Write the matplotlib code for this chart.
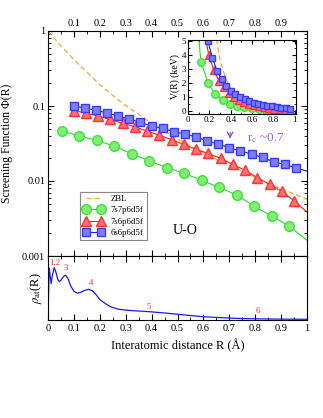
import matplotlib.pyplot as plt
from matplotlib.ticker import MultipleLocator

plt.rcParams['font.family'] = ['Liberation Serif', 'DejaVu Serif']
plt.rcParams['mathtext.fontset'] = 'stix'

# main panel: screening function
r_green = [0.054, 0.121, 0.189, 0.256, 0.324, 0.391, 0.459, 0.526, 0.594, 0.661, 0.729, 0.796, 0.864, 0.931]
phi_green = [0.0462, 0.0400, 0.0347, 0.0291, 0.0230, 0.0185, 0.0151, 0.0126, 0.0102, 0.0082, 0.0065, 0.0046, 0.0034, 0.0025]
end_green = 0.00162

r_red = [0.099, 0.146, 0.194, 0.241, 0.288, 0.336, 0.383, 0.430, 0.477, 0.525,
         0.572, 0.619, 0.667, 0.714, 0.761, 0.808, 0.856, 0.903, 0.951]
phi_red = [0.0863, 0.0811, 0.0733, 0.0662, 0.0586, 0.0528, 0.0462, 0.0409, 0.0356, 0.0307,
           0.0264, 0.0233, 0.0200, 0.0166, 0.0139, 0.0111, 0.0090, 0.0073, 0.0054]
end_red = 0.00387

r_blue = [0.099, 0.142, 0.185, 0.228, 0.271, 0.314, 0.357, 0.400, 0.443, 0.486, 0.529,
          0.571, 0.614, 0.657, 0.700, 0.743, 0.786, 0.829, 0.871, 0.914, 0.957]
phi_blue = [0.0997, 0.0946, 0.0873, 0.0811, 0.0733, 0.0668, 0.0604, 0.0539, 0.0502, 0.0455, 0.0422,
            0.0388, 0.0343, 0.0310, 0.0277, 0.0252, 0.0228, 0.0206, 0.0180, 0.0166, 0.0150]
end_blue = 0.0135

r_zbl = [0.0, 0.05, 0.1, 0.15, 0.2, 0.25, 0.3, 0.35, 0.4, 0.5, 0.6, 0.7, 0.8, 0.9, 1.0]
phi_zbl = [1.0, 0.63, 0.417, 0.282, 0.193, 0.138, 0.101, 0.0776, 0.0589, 0.0363, 0.0237, 0.0162, 0.0112, 0.0079, 0.0057]

# inset: potential in keV
v_green = [9.0, 3.50, 1.95, 1.20, 0.75, 0.50, 0.35, 0.25, 0.18, 0.13, 0.095, 0.06, 0.04, 0.03]
v_red = [9.2, 5.9, 4.0, 2.91, 2.16, 1.67, 1.28, 1.01, 0.79, 0.62,
         0.49, 0.40, 0.32, 0.25, 0.19, 0.15, 0.11, 0.086, 0.06]
v_blue = [10.7, 7.06, 5.0, 3.77, 2.87, 2.25, 1.79, 1.43, 1.20, 0.99, 0.85,
          0.72, 0.59, 0.50, 0.42, 0.36, 0.31, 0.26, 0.22, 0.19, 0.166]
r_zbl_in = [0.2, 0.25, 0.3, 0.35, 0.4, 0.5, 0.6, 0.7, 0.8, 0.9, 1.0]
v_zbl = [10.2, 5.9, 3.6, 2.35, 1.56, 0.77, 0.42, 0.25, 0.15, 0.09, 0.06]

# lower panel: atomic density
r_rho = [0.0, 0.003, 0.005, 0.008, 0.012, 0.017, 0.024, 0.031, 0.038, 0.044, 0.052, 0.06, 0.068,
         0.077, 0.088, 0.1, 0.113, 0.125, 0.14, 0.156, 0.17, 0.185, 0.2, 0.22, 0.24, 0.27, 0.3,
         0.33, 0.39, 0.45, 0.5, 0.55, 0.6, 0.65, 0.715, 0.78, 0.845, 0.92, 1.0]
rho = [0.0, 0.55, 0.81, 0.70, 0.57, 0.70, 0.82, 0.74, 0.63, 0.60, 0.63, 0.68, 0.70,
       0.65, 0.53, 0.45, 0.42, 0.43, 0.46, 0.48, 0.46, 0.40, 0.32, 0.26, 0.21, 0.17, 0.155,
       0.145, 0.13, 0.11, 0.09, 0.07, 0.052, 0.04, 0.027, 0.02, 0.016, 0.013, 0.011]
peak_labels = ["1,2", "3", "4", "5", "6"]
peak_r = [0.025, 0.07, 0.165, 0.39, 0.81]
peak_y = [0.90, 0.81, 0.58, 0.21, 0.145]

x_ticks = [0, 0.1, 0.2, 0.3, 0.4, 0.5, 0.6, 0.7, 0.8, 0.9, 1]
x_labels = ["0", "0.1", "0.2", "0.3", "0.4", "0.5", "0.6", "0.7", "0.8", "0.9", "1"]
y_ticks = [0.001, 0.01, 0.1, 1]
y_labels = ["0.001", "0.01", "0.1", "1"]
in_xticks = [0, 0.2, 0.4, 0.6, 0.8, 1]
in_xlabels = ["0", "0.2", "0.4", "0.6", "0.8", "1"]

W, H = 323, 418
fig = plt.figure(figsize=(W / 100, H / 100), dpi=100)
ax = fig.add_axes([48 / W, 1 - 256 / H, 259 / W, 225 / H])
ax2 = fig.add_axes([48 / W, 1 - 320 / H, 259 / W, 64 / H])
ins = fig.add_axes([188 / W, 1 - 113.5 / H, 108 / W, 73.5 / H])

green = dict(color="#22dd22", marker="o", ms=7.0, mfc="#80f070", mec="#44dd44", lw=0.8)
red = dict(color="#ff1a1a", marker="^", ms=7.3, mfc="#ff7070", mec="#ff3333", lw=0.8)
blue = dict(color="#1a1aff", marker="s", ms=6.2, mfc="#7d7dff", mec="#3a3aff", lw=0.8)
zbl = dict(color="#ffa52a", ls=(0, (4, 2.5)), lw=0.9)

ax.plot(r_zbl, phi_zbl, label="ZBL", **zbl)
ax.plot(r_green + [1.0], phi_green + [end_green], markevery=list(range(len(r_green))),
        label="7s7p6d5f", **green)
ax.plot(r_red + [1.0], phi_red + [end_red], markevery=list(range(len(r_red))),
        label="7s6p6d5f", **red)
ax.plot(r_blue + [1.0], phi_blue + [end_blue], markevery=list(range(len(r_blue))),
        label="6s6p6d5f", **blue)

ax.set_yscale("log")
ax.set_xlim(0, 1)
ax.set_ylim(0.001, 1)
ax.set_yticks(y_ticks)
ax.set_yticklabels(y_labels)
ax.set_xticks(x_ticks[1:-1])
ax.set_xticklabels(x_labels[1:-1])
ax.xaxis.set_minor_locator(MultipleLocator(0.05))
ax.tick_params(which="both", direction="in", top=True, right=True, labeltop=True,
               labelbottom=False, labelsize=7.5, pad=2)
ax.tick_params(which="major", length=4)
ax.tick_params(which="minor", length=2)
ax.set_ylabel("Screening Function Φ(R)", fontsize=8.5)
ax.yaxis.set_label_coords(-0.135, 0.5)

ax.annotate("", xy=(0.703, 0.0335), xytext=(0.703, 0.048),
            arrowprops=dict(arrowstyle="->", color="#8a4fd0", lw=0.9))
ax.text(0.77, 0.037, r"r$_{\rm c}$ ~0.7", color="#9a60d8", fontsize=9.5, va="center")
ax.text(0.53, 0.0022, "U-O", fontsize=10, ha="center", va="center")

leg = ax.legend(loc="upper left", bbox_to_anchor=(0.124, 0.286), borderaxespad=0,
                fontsize=6.3, numpoints=2, handlelength=2.3, fancybox=False,
                edgecolor="#888888", framealpha=1, labelspacing=0.35, borderpad=0.4)
leg.get_frame().set_linewidth(0.8)

# inset
ins.plot(r_zbl_in, v_zbl, **zbl)
ins.plot(r_green, v_green, **dict(green, ms=5.5))
ins.plot(r_red, v_red, **dict(red, ms=5.5))
ins.plot(r_blue, v_blue, **dict(blue, ms=4.8))
ins.set_xlim(0, 1.01)
ins.set_ylim(-0.19, 5.05)
ins.set_xticks(in_xticks)
ins.set_xticklabels(in_xlabels)
ins.set_yticks([0, 1, 2, 3, 4, 5])
ins.xaxis.set_minor_locator(MultipleLocator(0.1))
ins.yaxis.set_minor_locator(MultipleLocator(0.5))
ins.tick_params(which="both", direction="in", top=True, right=True, labelsize=6.5, pad=1.5)
ins.tick_params(which="major", length=3)
ins.tick_params(which="minor", length=1.5)
ins.set_ylabel("V(R) (keV)", fontsize=7, labelpad=1)

# lower panel
ax2.plot(r_rho, rho, color="#1a1aff", lw=0.9)
for lab, xr, yr in zip(peak_labels, peak_r, peak_y):
    ax2.text(xr, yr, lab, color="#ff3333", fontsize=6.5, ha="center", va="center")
ax2.set_xlim(0, 1)
ax2.set_ylim(0, 1)
ax2.set_yticks([])
ax2.set_xticks(x_ticks)
ax2.set_xticklabels(x_labels)
ax2.xaxis.set_minor_locator(MultipleLocator(0.05))
ax2.tick_params(which="both", direction="in", top=True, labelsize=7.5, pad=3)
ax2.tick_params(which="major", length=4)
ax2.tick_params(which="minor", length=2)
ax2.set_ylabel(r"$\rho_{\rm at}$(R)", fontsize=9, labelpad=3)
ax2.set_xlabel("Interatomic distance R (Å)", fontsize=9, labelpad=4)

fig.savefig("out.png", dpi=100)
